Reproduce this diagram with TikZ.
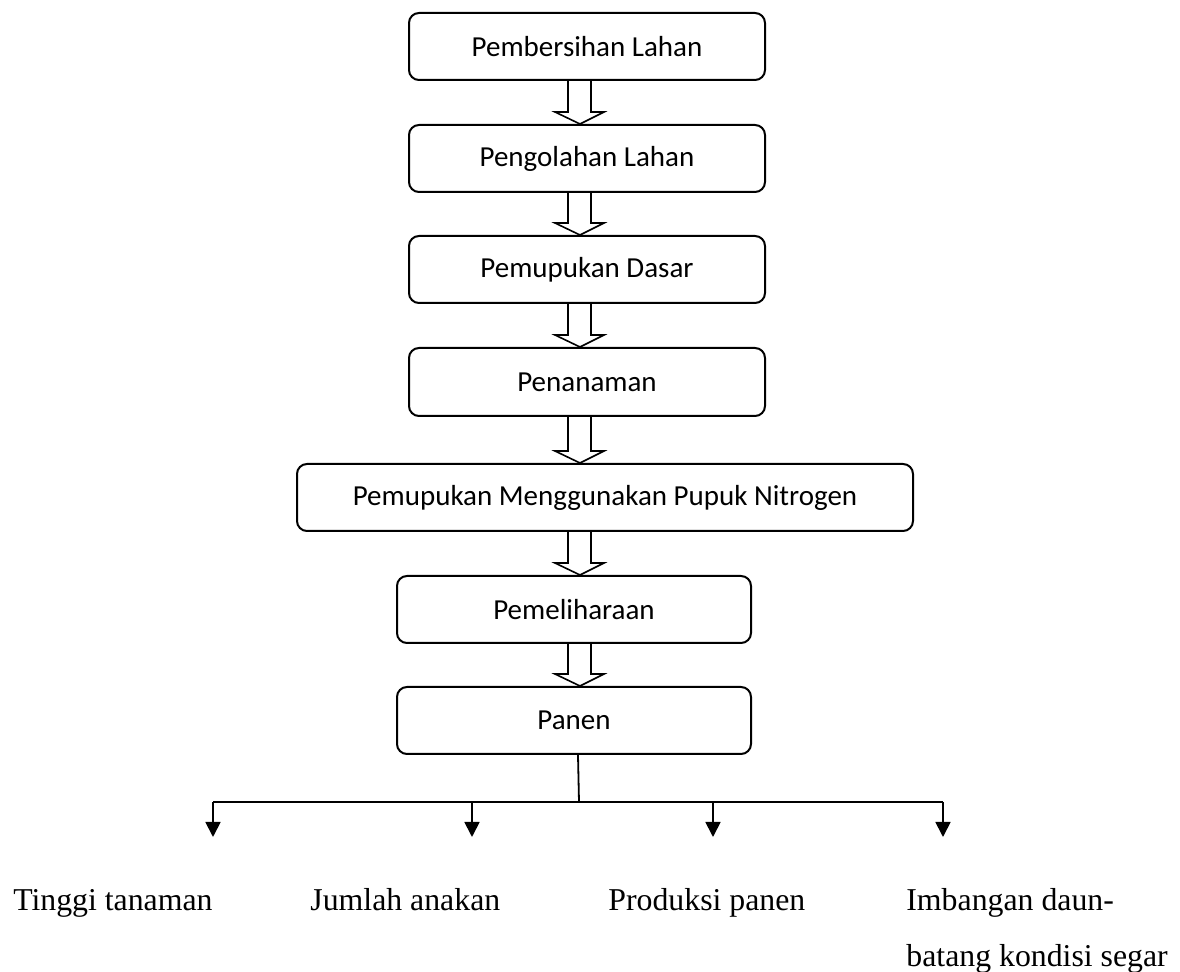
\documentclass[tikz,border=0pt]{standalone}
\usepackage{fontspec}
\setmainfont{Liberation Serif}
\newfontfamily\calibri{Carlito}
\usetikzlibrary{calc,arrows.meta}
\tikzset{
  box/.style={draw=black, line width=1pt, rounded corners=5pt, inner sep=0pt,
    font=\calibri\fontsize{14.5}{17}\selectfont},
  harrow/.style={draw=black, line width=0.8pt, line join=miter},
  branch/.style={draw=black, line width=0.9pt},
  tipline/.style={draw=black, line width=0.9pt, -{Triangle[width=7.5pt,length=7.5pt]}},
  lbl/.style={inner sep=0pt, font=\fontsize{15.9}{28}\selectfont}
}
\newcommand\hollowarr[2]{%
  \draw[harrow] (568,0 |- #1.south) -- ($(568,0 |- #2.north)+(0,-12)$) -- ($(555,0 |- #2.north)+(0,-12)$)
   -- (580,0 |- #2.north) -- ($(604,0 |- #2.north)+(0,-12)$) -- ($(591,0 |- #2.north)+(0,-12)$) -- (591,0 |- #1.south);}
\begin{document}
\begin{tikzpicture}[x=0.5pt,y=-0.5pt]
\useasboundingbox (0,0) rectangle (1180,972);
\node[box, minimum width=178pt, minimum height=33.5pt] (b1) at (587,46.5) {Pembersihan Lahan};
\node[box, minimum width=178pt, minimum height=33.5pt] (b2) at (587,158.5) {Pengolahan Lahan};
\node[box, minimum width=178pt, minimum height=33.5pt] (b3) at (587,269.5) {Pemupukan Dasar};
\node[box, minimum width=178pt, minimum height=34pt] (b4) at (587,382) {Penanaman};
\node[box, minimum width=308pt, minimum height=33.5pt] (b5) at (605,497.5) {Pemupukan Menggunakan Pupuk Nitrogen};
\node[box, minimum width=177pt, minimum height=33.5pt] (b6) at (574,609.5) {Pemeliharaan};
\node[box, minimum width=177pt, minimum height=33.5pt] (b7) at (574,720.5) {Panen};
\hollowarr{b1}{b2}
\hollowarr{b2}{b3}
\hollowarr{b3}{b4}
\hollowarr{b4}{b5}
\hollowarr{b5}{b6}
\hollowarr{b6}{b7}
\coordinate (j) at (579,802);
\coordinate (h1) at (213,802);
\coordinate (h2) at (472,802);
\coordinate (h3) at (713,802);
\coordinate (h4) at (943,802);
\coordinate (e1) at (213,837);
\coordinate (e2) at (472,837);
\coordinate (e3) at (713,837);
\coordinate (e4) at (943,837);
\draw[branch] (578,0 |- b7.south) -- (j);
\draw[branch] (h1) -- (h4);
\draw[tipline] (h1) -- (e1);
\draw[tipline] (h2) -- (e2);
\draw[tipline] (h3) -- (e3);
\draw[tipline] (h4) -- (e4);
\node[lbl, anchor=base east] (t1) at (213,911) {Tinggi tanaman};
\node[lbl, anchor=base west] (t2) at (310,911) {Jumlah anakan};
\node[lbl, anchor=base west] (t3) at (608,911) {Produksi panen};
\node[lbl, anchor=base west] (t4) at (906,911) {Imbangan daun-};
\node[lbl, anchor=base west] (t5) at (906,967) {batang kondisi segar};
\end{tikzpicture}
\end{document}
